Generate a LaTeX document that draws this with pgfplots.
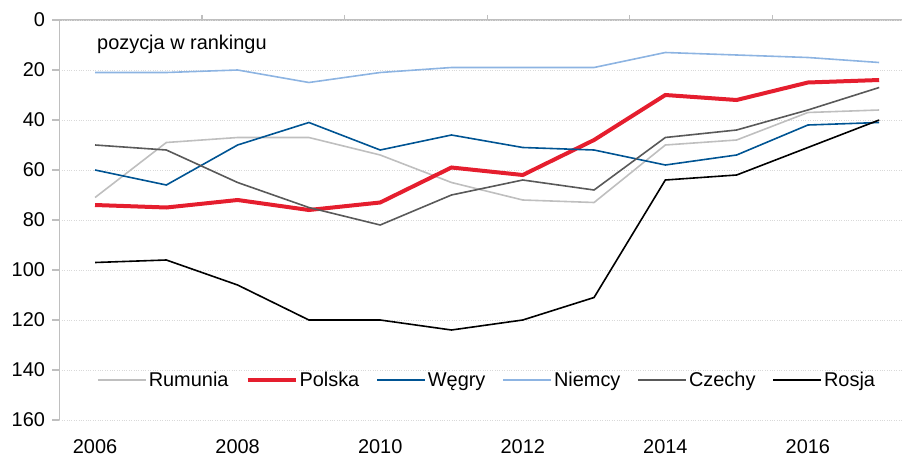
\documentclass[border=0pt]{standalone}
\usepackage{pgfplots}
\pgfplotsset{compat=1.18}
\usepackage{fontspec}
\setmainfont{Liberation Sans}
\definecolor{cRum}{RGB}{191,191,191}
\definecolor{cPol}{RGB}{229,30,46}
\definecolor{cWeg}{RGB}{0,84,147}
\definecolor{cNie}{RGB}{141,180,226}
\definecolor{cCze}{RGB}{89,89,89}
\definecolor{cRos}{RGB}{0,0,0}
\definecolor{axgray}{RGB}{191,191,191}
\definecolor{gridgray}{RGB}{217,217,217}
\begin{document}
\begin{tikzpicture}
\path[use as bounding box] (-59.4bp,-37bp) rectangle (842.6bp,420bp);
% top axis line with ticks between categories
\begin{axis}[
  at={(0,0)}, anchor=south west,
  scale only axis, width=842.6bp, height=400bp,
  xmin=2005.5, xmax=2017.32, ymin=0, ymax=1,
  hide y axis,
  axis x line*=top,
  axis line style={axgray, line width=1.2bp, -},
  xtick={2007.5,2009.5,2011.5,2013.5,2015.5},
  xticklabels={},
  tick align=outside,
  major tick length=5bp,
  major tick style={color=axgray, line width=1.2bp},
]
\end{axis}
% bottom year labels
\begin{axis}[
  at={(0,0)}, anchor=south west,
  scale only axis, width=842.6bp, height=400bp,
  xmin=2005.5, xmax=2017.32, ymin=0, ymax=1,
  hide y axis,
  axis x line*=bottom,
  x axis line style={draw=none},
  xtick={2006,2008,2010,2012,2014,2016},
  major tick length=0pt,
  xticklabel style={yshift=-16bp},
  /pgf/number format/assume math mode=true,
  /pgf/number format/1000 sep={},
  tick label style={font=\fontsize{20}{24}\selectfont},
]
\end{axis}
\begin{axis}[
  at={(0,0)}, anchor=south west,
  scale only axis, width=842.6bp, height=400bp,
  xmin=2005.5, xmax=2017.32, ymin=0, ymax=160, y dir=reverse,
  clip=false,
  hide x axis,
  axis y line*=left,
  axis line style={axgray, line width=1.2bp, -},
  ytick={0,20,...,160},
  tick align=outside,
  major tick length=7bp,
  major tick style={color=axgray, line width=1.2bp},
  yticklabel style={xshift=-4bp},
  ymajorgrids,
  major grid style={color=gridgray, dotted, line width=1bp},
  /pgf/number format/assume math mode=true,
  tick label style={font=\fontsize{20}{24}\selectfont},
  legend columns=6,
  legend style={at={(0.5076,0.1)}, anchor=center, draw=none, fill=none,
    font=\fontsize{20}{24}\selectfont,
    /tikz/every even column/.append style={column sep=15bp}},
  legend image code/.code={\draw[#1] (0bp,0bp) -- (48bp,0bp);},
]
\addplot[color=cRum, line width=1.6bp] coordinates {
(2006,71) (2007,49) (2008,47) (2009,47) (2010,54) (2011,65) (2012,72) (2013,73) (2014,50) (2015,48) (2016,37) (2017,36)};
\addlegendentry{Rumunia}
\addplot[color=cPol, line width=4bp] coordinates {
(2006,74) (2007,75) (2008,72) (2009,76) (2010,73) (2011,59) (2012,62) (2013,48) (2014,30) (2015,32) (2016,25) (2017,24)};
\addlegendentry{Polska}
\addplot[color=cWeg, line width=1.6bp] coordinates {
(2006,60) (2007,66) (2008,50) (2009,41) (2010,52) (2011,46) (2012,51) (2013,52) (2014,58) (2015,54) (2016,42) (2017,41)};
\addlegendentry{Węgry}
\addplot[color=cNie, line width=1.6bp] coordinates {
(2006,21) (2007,21) (2008,20) (2009,25) (2010,21) (2011,19) (2012,19) (2013,19) (2014,13) (2015,14) (2016,15) (2017,17)};
\addlegendentry{Niemcy}
\addplot[color=cCze, line width=1.6bp] coordinates {
(2006,50) (2007,52) (2008,65) (2009,75) (2010,82) (2011,70) (2012,64) (2013,68) (2014,47) (2015,44) (2016,36) (2017,27)};
\addlegendentry{Czechy}
\addplot[color=cRos, line width=1.6bp] coordinates {
(2006,97) (2007,96) (2008,106) (2009,120) (2010,120) (2011,124) (2012,120) (2013,111) (2014,64) (2015,62) (2016,51) (2017,40)};
\addlegendentry{Rosja}
\end{axis}
\node[anchor=base west, inner sep=0pt, font=\fontsize{20}{24}\selectfont] at (37.6bp,370bp) {pozycja w rankingu};
\end{tikzpicture}
\end{document}
